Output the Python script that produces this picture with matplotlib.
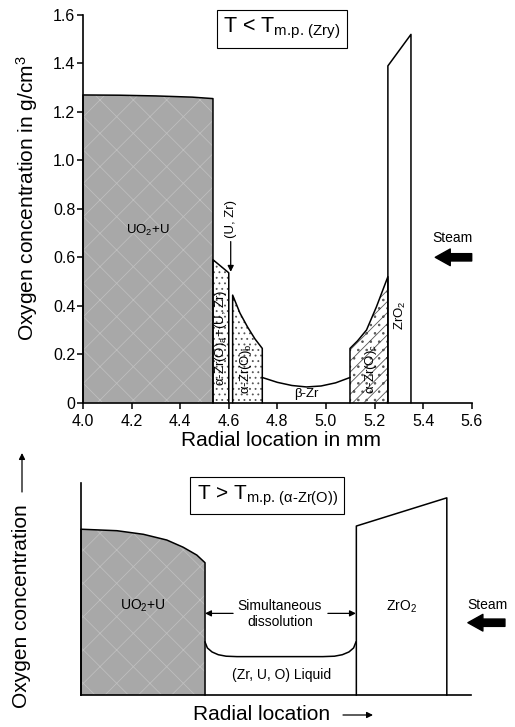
import matplotlib.pyplot as plt
import numpy as np

plt.rcParams['font.family'] = ['Liberation Sans', 'DejaVu Sans']
plt.rcParams['mathtext.fontset'] = 'custom'
plt.rcParams['mathtext.rm'] = 'Liberation Sans'
plt.rcParams['mathtext.it'] = 'Liberation Sans:italic'
plt.rcParams['mathtext.bf'] = 'Liberation Sans:bold'
plt.rcParams['hatch.linewidth'] = 0.6

#Top panel: oxygen profile below the Zry melting point (mm, g/cm3)
uo2_x = [4.0, 4.15, 4.3, 4.45, 4.535]
uo2_y = [1.27, 1.269, 1.266, 1.261, 1.255]
za_x = [4.535, 4.600]
za_y = [0.59, 0.536]
zb_x = [4.616, 4.646, 4.677, 4.708, 4.738]
zb_y = [0.444, 0.37, 0.313, 0.263, 0.224]
bzr_x = [4.738, 4.80, 4.86, 4.92, 4.98, 5.04, 5.099]
bzr_y = [0.104, 0.084, 0.071, 0.065, 0.069, 0.082, 0.104]
zc_x = [5.099, 5.13, 5.167, 5.208, 5.255]
zc_y = [0.224, 0.255, 0.30, 0.396, 0.52]
zro2_x = [5.255, 5.35]
zro2_y = [1.39, 1.52]
uzr_x = 4.608

xticks = [4.0, 4.2, 4.4, 4.6, 4.8, 5.0, 5.2, 5.4, 5.6]
xticklabels = ['4.0', '4.2', '4.4', '4.6', '4.8', '5.0', '5.2', '5.4', '5.6']
yticks = [0, 0.2, 0.4, 0.6, 0.8, 1.0, 1.2, 1.4, 1.6]
yticklabels = ['0', '0.2', '0.4', '0.6', '0.8', '1.0', '1.2', '1.4', '1.6']

#Bottom panel: schematic profile above the alpha-Zr(O) melting point
b_uo2_x = [0.0, 0.092, 0.160, 0.220, 0.262, 0.297, 0.318]
b_uo2_y = [0.782, 0.775, 0.758, 0.731, 0.697, 0.660, 0.624]
liq_x = [0.318, 0.324, 0.336, 0.352, 0.372, 0.40, 0.62, 0.65, 0.67, 0.687, 0.699, 0.705]
liq_y = [0.25, 0.222, 0.203, 0.19, 0.183, 0.181, 0.181, 0.183, 0.19, 0.203, 0.222, 0.25]
b_zro2_x = [0.706, 0.938]
b_zro2_y = [0.797, 0.93]


def fx(px):
    return px / 515


def fy(py):
    return 1 - py / 727


def region(ax, x, top, face, hatch=None, hcolor='black'):
    ax.fill_between(x, 0, top, facecolor=face, hatch=hatch, edgecolor=hcolor, linewidth=0)
    ax.plot([x[0]] + list(x) + [x[-1]], [0] + list(top) + [0], color='black', lw=1.1, clip_on=False)


def steam_arrow(ax, tip, tail):
    ax.annotate('', xy=tip, xytext=tail, annotation_clip=False,
                arrowprops=dict(arrowstyle='simple,head_length=0.45,head_width=0.5,tail_width=0.22',
                                color='black', mutation_scale=24, shrinkA=0, shrinkB=0))


def thin_arrow(ax, tip, tail, coords='data'):
    ax.annotate('', xy=tip, xytext=tail, xycoords=coords, textcoords=coords, annotation_clip=False,
                arrowprops=dict(arrowstyle='-|>', color='black', lw=0.9, mutation_scale=9,
                                shrinkA=0, shrinkB=0))


fig = plt.figure(figsize=(5.15, 7.27), dpi=100, facecolor='white')

#Top chart
ax1 = fig.add_axes([fx(83), fy(402.7), 388.7 / 515, 387.7 / 727])
ax1.set_xlim(4.0, 5.6)
ax1.set_ylim(0, 1.6)

region(ax1, uo2_x, uo2_y, '#a8a8a8', 'x', '#bebebe')
region(ax1, za_x, za_y, 'white', '...', '#555555')
region(ax1, zb_x, zb_y, 'white', '...', '#555555')
region(ax1, zc_x, zc_y, 'white', '///..', '#555555')
region(ax1, zro2_x, zro2_y, 'white')
ax1.plot(bzr_x, bzr_y, color='black', lw=1.1)

ax1.text(4.265, 0.71, 'UO$_\\mathrm{2}$+U', ha='center', va='center', fontsize=9.5)
ax1.text(4.568, 0.27, 'α-Zr(O)$_\\mathrm{a}$+(U, Zr)', rotation=90, ha='center', va='center', fontsize=9.5)
ax1.text(4.672, 0.14, 'α-Zr(O)$_\\mathrm{b}$', rotation=90, ha='center', va='center', fontsize=9.5)
ax1.text(4.92, 0.035, 'β-Zr', ha='center', va='center', fontsize=9.5)
ax1.text(5.185, 0.14, 'α-Zr(O)$_\\mathrm{c}$', rotation=90, ha='center', va='center', fontsize=9.5)
ax1.text(5.305, 0.36, 'ZrO$_\\mathrm{2}$', rotation=90, ha='center', va='center', fontsize=9.5)
ax1.text(uzr_x, 0.76, '(U, Zr)', rotation=90, ha='center', va='center', fontsize=9.5)
thin_arrow(ax1, (uzr_x, 0.54), (uzr_x, 0.665))

ax1.text(5.52, 0.68, 'Steam', ha='center', va='center', fontsize=10)
steam_arrow(ax1, (5.45, 0.60), (5.60, 0.60))

ax1.text(4.818, 1.544, 'T < T$_\\text{m.p. (Zry)}$', ha='center', va='center', fontsize=15.5,
         bbox=dict(boxstyle='square,pad=0.3', facecolor='white', edgecolor='black', lw=0.8))

ax1.set_xticks(xticks, xticklabels)
ax1.set_yticks(yticks, yticklabels)
ax1.tick_params(axis='x', direction='out', length=4, width=1.1, labelsize=11.5, pad=4)
ax1.tick_params(axis='y', direction='out', length=4, width=1.1, labelsize=11.5, pad=1.5)
ax1.spines['top'].set_visible(False)
ax1.spines['right'].set_visible(False)
for s in ['left', 'bottom']:
    ax1.spines[s].set_linewidth(1.2)

fig.text(fx(27), fy(198), 'Oxygen concentration in g/cm$^\\mathrm{3}$', rotation=90,
         ha='center', va='center', fontsize=15)
fig.text(fx(281), fy(440), 'Radial location in mm', ha='center', va='center', fontsize=15)

#Bottom chart
ax2 = fig.add_axes([fx(81), fy(695), 390 / 515, 212 / 727])
ax2.set_xlim(0, 1)
ax2.set_ylim(0, 1)

region(ax2, b_uo2_x, b_uo2_y, '#a8a8a8', 'x', '#bebebe')
ax2.plot(liq_x, liq_y, color='black', lw=1.1)
region(ax2, b_zro2_x, b_zro2_y, 'white')

ax2.text(0.159, 0.42, 'UO$_\\mathrm{2}$+U', ha='center', va='center', fontsize=10)
ax2.text(0.51, 0.383, 'Simultaneous\ndissolution', ha='center', va='center', fontsize=10)
thin_arrow(ax2, (0.318, 0.385), (0.39, 0.385))
thin_arrow(ax2, (0.705, 0.385), (0.633, 0.385))
ax2.text(0.515, 0.094, '(Zr, U, O) Liquid', ha='center', va='center', fontsize=10)
ax2.text(0.822, 0.417, 'ZrO$_\\mathrm{2}$', ha='center', va='center', fontsize=10)
ax2.text(1.043, 0.425, 'Steam', ha='center', va='center', fontsize=10)
steam_arrow(ax2, (0.992, 0.341), (1.087, 0.341))

ax2.text(0.477, 0.94, 'T > T$_\\text{m.p. (α-Zr(O))}$', ha='center', va='center',
         fontsize=15, bbox=dict(boxstyle='square,pad=0.3', facecolor='white', edgecolor='black', lw=0.8))

ax2.set_xticks([])
ax2.set_yticks([])
ax2.spines['top'].set_visible(False)
ax2.spines['right'].set_visible(False)
for s in ['left', 'bottom']:
    ax2.spines[s].set_linewidth(1.2)

fig.text(fx(22), fy(606), 'Oxygen concentration', rotation=90, ha='center', va='center', fontsize=15)
thin_arrow(ax2, (fx(22), fy(453)), (fx(22), fy(492)), coords='figure fraction')
fig.text(fx(262), fy(714), 'Radial location', ha='center', va='center', fontsize=15)
thin_arrow(ax2, (fx(373), fy(715)), (fx(343), fy(715)), coords='figure fraction')

plt.savefig('out.png', dpi=100)
